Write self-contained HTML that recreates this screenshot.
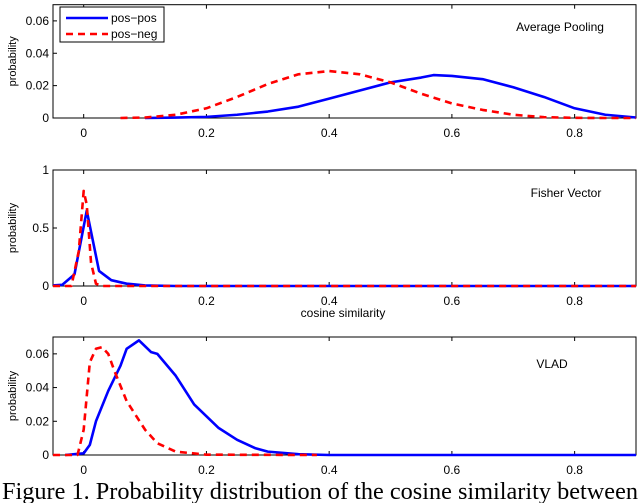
<!DOCTYPE html>
<html><head><meta charset="utf-8"><style>
html,body{margin:0;padding:0;background:#fff;width:640px;height:503px;overflow:hidden}
svg{display:block}
text{font-family:"Liberation Sans",sans-serif;fill:#000}
</style></head><body>
<svg id="fig" width="640" height="503" viewBox="0 0 640 503" xmlns="http://www.w3.org/2000/svg">
<text x="2" y="499" textLength="636" lengthAdjust="spacingAndGlyphs" style="font-family:'Liberation Serif',serif;font-size:24px">Figure 1. Probability distribution of the cosine similarity between</text>
</svg>
<script>
// x tick labels
const xTicks=[0,0.2,0.4,0.6,0.8];
// Average pooling
const avgPosX=[0.1,0.15,0.2,0.25,0.3,0.35,0.4,0.45,0.5,0.55,0.57,0.6,0.65,0.7,0.75,0.8,0.85,0.9];
const avgPosY=[0,0.0003,0.0007,0.002,0.004,0.007,0.012,0.017,0.022,0.025,0.0265,0.026,0.024,0.019,0.013,0.006,0.002,0.0003];
const avgNegX=[0.06,0.1,0.15,0.2,0.25,0.3,0.35,0.4,0.45,0.5,0.55,0.6,0.65,0.7,0.75,0.8,0.85,0.9];
const avgNegY=[0,0.0003,0.002,0.006,0.013,0.021,0.027,0.029,0.027,0.022,0.015,0.009,0.005,0.002,0.0005,0.0001,0,0];
const avgYTicks=[0,0.02,0.04,0.06];
// Fisher vector
const fvPosX=[-0.05,-0.035,-0.015,0.005,0.025,0.045,0.07,0.1,0.15,0.9];
const fvPosY=[0.005,0.01,0.1,0.65,0.13,0.05,0.02,0.005,0,0];
const fvNegX=[-0.05,-0.02,-0.008,0,0.005,0.012,0.02,0.03,0.9];
const fvNegY=[0,0,0.3,0.82,0.7,0.2,0.02,0,0];
const fvYTicks=[0,0.5,1];
// VLAD
const vlPosX=[-0.03,0,0.01,0.02,0.04,0.06,0.07,0.09,0.11,0.12,0.15,0.18,0.22,0.25,0.28,0.3,0.35,0.4,0.9];
const vlPosY=[0,0.001,0.006,0.02,0.038,0.053,0.063,0.068,0.061,0.06,0.047,0.03,0.016,0.009,0.004,0.002,0.0005,0,0];
const vlNegX=[-0.05,-0.01,0,0.01,0.02,0.03,0.04,0.05,0.07,0.1,0.12,0.15,0.2,0.38];
const vlNegY=[0,0,0.015,0.055,0.063,0.064,0.06,0.05,0.032,0.015,0.007,0.002,0.0002,0];
const vlYTicks=[0,0.02,0.04,0.06];

const NS="http://www.w3.org/2000/svg";
const svg=document.getElementById('fig');
function mk(tag,attrs,parent){const e=document.createElementNS(NS,tag);for(const k in attrs)e.setAttribute(k,attrs[k]);(parent||svg).appendChild(e);return e;}
const L=53,R=636,X0=-0.05,X1=0.9;
const sx=v=>L+(v-X0)/(X1-X0)*(R-L);

function panel(name,top,bot,ymax,yTicks,yFmt,pos,neg,title,tx,ty){
  const g=mk('g',{});
  
  
  const sy=v=>bot-(v/ymax)*(bot-top);
  const frame=mk('rect',{x:L,y:top,width:R-L,height:bot-top,fill:'none',stroke:'#000','stroke-width':1},g);
  
  
  xTicks.forEach(t=>{
    const x=sx(t);
    mk('line',{x1:x,x2:x,y1:bot,y2:bot-4,stroke:'#000'},g);
    mk('line',{x1:x,x2:x,y1:top,y2:top+4,stroke:'#000'},g);
    const tl=mk('text',{x:x,y:bot+19,'text-anchor':'middle','font-size':12},g);
    tl.textContent=t===0?'0':t.toFixed(1);
    
    
  });
  yTicks.forEach(t=>{
    const y=sy(t);
    mk('line',{x1:L,x2:L+4,y1:y,y2:y,stroke:'#000'},g);
    const tl=mk('text',{x:L-4,y:y+4,'text-anchor':'end','font-size':12},g);
    tl.textContent=yFmt(t);
    
    
  });
  const yl=mk('text',{x:0,y:0,'text-anchor':'middle','font-size':11,transform:`translate(16,${(top+bot)/2}) rotate(-90)`},g);
  yl.textContent='probability';
  
  
  const tt=mk('text',{x:tx,y:ty,'text-anchor':'middle','font-size':12},g);
  tt.textContent=title;
  
  
  const line=(xs,ys,col,dash,n)=>{
    const p=mk('polyline',{points:xs.map((x,i)=>sx(x)+','+sy(ys[i])).join(' '),fill:'none',stroke:col,'stroke-width':2.6,'stroke-dasharray':dash,'stroke-linejoin':'round'},g);
    
    
  };
  line(pos[0],pos[1],'#0000ff','none','pos-pos-line');
  line(neg[0],neg[1],'#ff0000','7,5','pos-neg-line');
}
const f2=t=>t===0?'0':t.toFixed(2);
panel('average-pooling',4.7,118,0.07,avgYTicks,f2,[avgPosX,avgPosY],[avgNegX,avgNegY],'Average Pooling',560,31);
panel('fisher-vector',170,286,1,fvYTicks,t=>t===0?'0':String(t),[fvPosX,fvPosY],[fvNegX,fvNegY],'Fisher Vector',566,197);
panel('vlad',337,455,0.07,vlYTicks,f2,[vlPosX,vlPosY],[vlNegX,vlNegY],'VLAD',552,368);

const xl=mk('text',{x:343,y:317,'text-anchor':'middle','font-size':12});
xl.textContent='cosine similarity';



// legend
const lg=mk('g',{});


mk('rect',{x:60,y:7,width:104,height:35,fill:'#fff',stroke:'#000','stroke-width':1},lg);
mk('line',{x1:66,x2:108,y1:18,y2:18,stroke:'#0000ff','stroke-width':2.6},lg);
mk('line',{x1:66,x2:108,y1:34,y2:34,stroke:'#ff0000','stroke-width':2.6,'stroke-dasharray':'7,5'},lg);
const e1=mk('text',{x:111,y:22,'font-size':12},lg);e1.textContent='pos\u2212pos';


const e2=mk('text',{x:111,y:38,'font-size':12},lg);e2.textContent='pos\u2212neg';


</script>
</body></html>
